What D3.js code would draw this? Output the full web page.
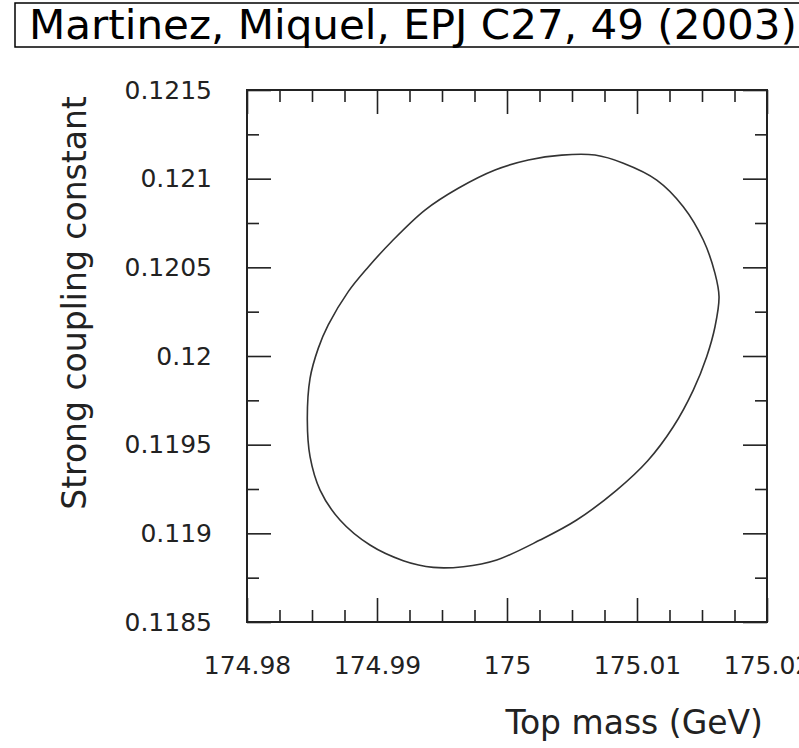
<!DOCTYPE html>
<style>
body { margin: 0; background: #fff; }
.axis .domain { display: none; }
.axis line { stroke: #222; stroke-width: 1.6; }
.axis text { fill: #222; font-family: "DejaVu Sans", sans-serif; font-size: 25px; }
</style>
<svg width="799" height="748"></svg>
<script src="https://d3js.org/d3.v7.min.js"></script>
<script>

// contour (top mass in GeV, alpha_s)
var topMass = [174.98464, 174.98485, 174.98548, 174.98625, 174.98779, 174.98933, 174.99113,
  174.99369, 174.99625, 174.99908, 175.00164, 175.00421, 175.00677, 175.00895, 175.01152,
  175.01356, 175.01510, 175.01600, 175.01631, 175.01600, 175.01536, 175.01433, 175.01279,
  175.01081, 175.00844, 175.00536, 175.00254, 174.99921, 174.99664, 174.99433, 174.99202,
  174.98946, 174.98715, 174.98562, 174.98485];
var alphaS = [0.119639, 0.119874, 0.120043, 0.120175, 0.120363, 0.120502, 0.120646,
  0.120823, 0.120946, 0.121049, 0.121105, 0.121133, 0.121133, 0.121087, 0.120992,
  0.120842, 0.120654, 0.120466, 0.120334, 0.120165, 0.119996, 0.119808, 0.119601,
  0.119408, 0.119244, 0.119075, 0.118962, 0.118850, 0.118812, 0.118808, 0.118846,
  0.118934, 0.119075, 0.119244, 0.119432];

var xTicks = [174.98, 174.99, 175, 175.01, 175.02];
var xTickLabels = ["174.98", "174.99", "175", "175.01", "175.02"];
var xMinor = [174.9825, 174.985, 174.9875, 174.9925, 174.995, 174.9975,
  175.0025, 175.005, 175.0075, 175.0125, 175.015, 175.0175];
var yTicks = [0.1185, 0.119, 0.1195, 0.12, 0.1205, 0.121, 0.1215];
var yTickLabels = ["0.1185", "0.119", "0.1195", "0.12", "0.1205", "0.121", "0.1215"];
var yMinor = [0.11875, 0.11925, 0.11975, 0.12025, 0.12075, 0.12125];

var svg = d3.select("svg"),
    margin = {top: 90, right: 32, bottom: 126, left: 247},
    width = +svg.attr("width") - margin.left - margin.right,
    height = +svg.attr("height") - margin.top - margin.bottom,
    g = svg.append("g").attr("transform", "translate(" + margin.left + "," + margin.top + ")");

var x = d3.scaleLinear().domain([174.98, 175.02]).range([0, width]);
var y = d3.scaleLinear().domain([0.1185, 0.1215]).range([height, 0]);

// title box (runs off the right edge, as in the original)
svg.append("rect")
    .attr("x", 15).attr("y", 3)
    .attr("width", 800).attr("height", 44)
    .attr("fill", "none").attr("stroke", "#000").attr("stroke-width", 1.5);
svg.append("text")
    .attr("x", 29).attr("y", 39)
    .attr("font-family", "DejaVu Sans, sans-serif")
    .attr("font-size", 40)
    .attr("textLength", 768)
    .attr("lengthAdjust", "spacingAndGlyphs")
    .text("Martinez, Miquel, EPJ C27, 49 (2003)");

// major + minor ticks, all pointing inward
g.append("g").attr("class", "axis")
    .attr("transform", "translate(0," + height + ")")
    .call(d3.axisBottom(x).tickValues(xTicks).tickSize(-24).tickPadding(34)
      .tickFormat(function(d, i) { return xTickLabels[i]; }));
g.append("g").attr("class", "axis")
    .attr("transform", "translate(0," + height + ")")
    .call(d3.axisBottom(x).tickValues(xMinor).tickSize(-12).tickFormat(""));
g.append("g").attr("class", "axis")
    .call(d3.axisTop(x).tickValues(xTicks).tickSize(-24).tickFormat(""));
g.append("g").attr("class", "axis")
    .call(d3.axisTop(x).tickValues(xMinor).tickSize(-12).tickFormat(""));

g.append("g").attr("class", "axis")
    .call(d3.axisLeft(y).tickValues(yTicks).tickSize(-24).tickPadding(35)
      .tickFormat(function(d, i) { return yTickLabels[i]; }));
g.append("g").attr("class", "axis")
    .call(d3.axisLeft(y).tickValues(yMinor).tickSize(-12).tickFormat(""));
g.append("g").attr("class", "axis")
    .attr("transform", "translate(" + width + ",0)")
    .call(d3.axisRight(y).tickValues(yTicks).tickSize(-24).tickFormat(""));
g.append("g").attr("class", "axis")
    .attr("transform", "translate(" + width + ",0)")
    .call(d3.axisRight(y).tickValues(yMinor).tickSize(-12).tickFormat(""));

g.append("rect")
    .attr("width", width).attr("height", height)
    .attr("fill", "none").attr("stroke", "#222").attr("stroke-width", 2);

// contour
var pts = topMass.map(function(m, i) { return [x(m), y(alphaS[i])]; });
g.append("path")
    .attr("d", d3.line().curve(d3.curveCatmullRomClosed)(pts))
    .attr("fill", "none")
    .attr("stroke", "#333")
    .attr("stroke-width", 1.6);

// axis titles
svg.append("text")
    .attr("x", 763).attr("y", 734)
    .attr("text-anchor", "end")
    .attr("font-family", "DejaVu Sans, sans-serif")
    .attr("font-size", 33)
    .attr("fill", "#222")
    .text("Top mass (GeV)");
svg.append("text")
    .attr("transform", "translate(86,303) rotate(-90)")
    .attr("text-anchor", "middle")
    .attr("font-family", "DejaVu Sans, sans-serif")
    .attr("font-size", 33)
    .attr("fill", "#222")
    .text("Strong coupling constant");

</script>
